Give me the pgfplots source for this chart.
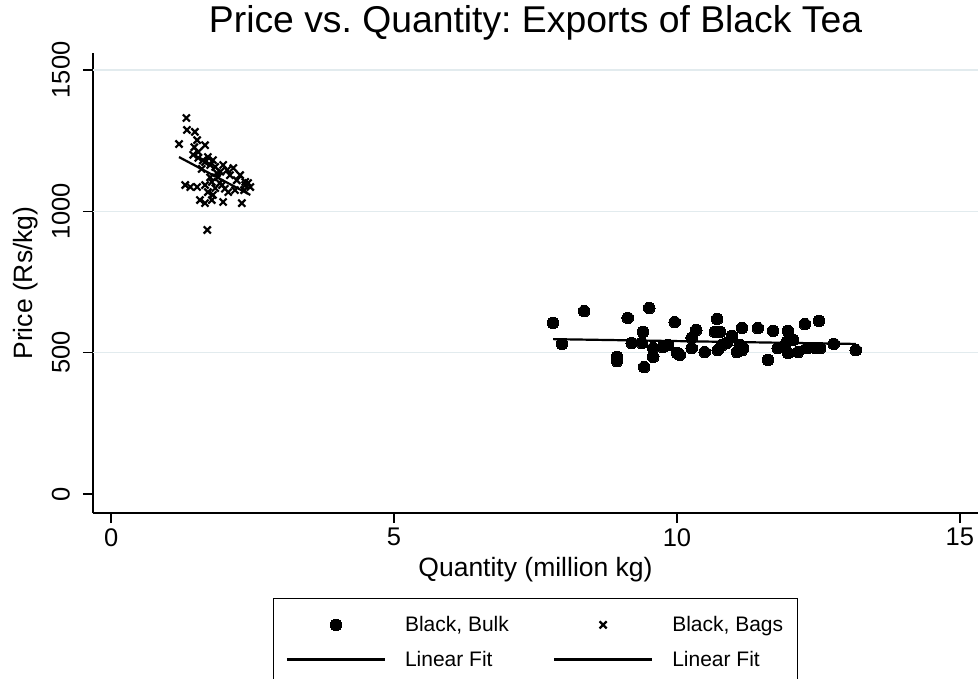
\documentclass[border=0pt]{standalone}
\usepackage{pgfplots}
\pgfplotsset{compat=1.18}
\usepackage{fontspec}
\setmainfont{Liberation Sans}
\frenchspacing
\definecolor{gridc}{RGB}{226,235,238}

\pgfplotsset{
  marklegend/.style={legend image code/.code={\path (0pt,0pt) (98pt,0pt); \draw[##1] plot coordinates {(49pt,0pt)};}},
  linelegend/.style={legend image code/.code={\draw[##1] (0pt,0pt) -- (98pt,0pt);}},
}

\pgfplotstableread{
x y
7.81 605
7.97 531
8.36 647
8.94 485
8.94 470
9.13 623
9.20 534
9.38 534
9.40 573
9.42 449
9.51 658
9.58 516
9.58 485
9.75 520
9.84 527
9.96 608
10.00 499
10.05 492
10.26 552
10.34 580
10.26 516
10.49 502
10.71 619
10.67 573
10.76 573
10.80 527
10.72 509
10.88 534
10.97 559
11.15 587
11.11 527
11.06 502
11.17 516
11.15 509
11.43 587
11.70 577
11.96 577
11.94 538
12.05 545
11.61 474
11.78 516
11.96 499
12.14 502
12.26 601
12.51 612
12.30 516
12.44 516
12.53 516
12.77 531
13.16 509
}\bulk

\pgfplotstableread{
x y
1.33 1330
1.34 1288
1.48 1281
1.20 1238
1.52 1252
1.47 1227
1.66 1234
1.54 1210
1.54 1189
1.71 1192
1.80 1181
1.66 1174
1.75 1164
1.84 1157
1.98 1164
2.05 1146
2.16 1153
2.10 1128
2.28 1128
2.37 1104
2.46 1086
1.31 1093
1.40 1086
1.52 1086
1.66 1093
1.78 1104
1.89 1121
1.87 1135
1.84 1082
1.96 1093
1.71 1068
1.80 1058
1.57 1040
1.66 1029
1.78 1040
1.98 1033
2.31 1029
2.37 1093
2.19 1075
2.07 1068
1.70 934
1.60 1150
1.92 1100
2.01 1080
1.75 1120
2.22 1110
1.45 1200
2.35 1075
2.42 1100
1.62 1180
1.93 1140
}\bags

\pgfplotstableread{
x y
7.81 548
13.16 531
}\bulkfit

\pgfplotstableread{
x y
1.20 1192
2.46 1058
}\bagsfit

\begin{document}
\begin{tikzpicture}
\useasboundingbox (0pt,0pt) rectangle (978pt,-678pt);
\clip (0pt,0pt) rectangle (978pt,-678pt);
\begin{axis}[
  at={(93pt,-513pt)}, anchor=south west,
  scale only axis, width=885pt, height=460pt,
  xmin=-0.32, xmax=15.32, ymin=-67, ymax=1560,
  axis x line*=bottom, axis y line*=left,
  axis line style={-, black, line width=1.3pt},
  xtick={0,5,10,15}, ytick={0,500,1000,1500},
  tick align=outside, major tick length=10pt,
  tick style={black, line width=1.3pt},
  minor tick num=0,
  /pgf/number format/assume math mode=true,
  /pgf/number format/1000 sep={},
  xticklabel style={font=\fontsize{25.5}{30}\selectfont, inner sep=0pt, anchor=north, yshift=-5pt},
  yticklabel style={font=\fontsize{25.5}{30}\selectfont, inner sep=0pt, xshift=-13pt, rotate=90, anchor=south},
  extra y ticks={500,1000,1500},
  extra y tick labels={,,},
  extra y tick style={grid=major, major tick length=0pt, major grid style={gridc, line width=1.5pt}},
  title={Price vs. Quantity: Exports of Black Tea},
  title style={font=\fontsize{37.3}{42}\selectfont, at={(axis description cs:0.5,1)}, anchor=base, yshift=15pt},
  xlabel={Quantity (million kg)},
  ylabel={Price (Rs/kg)},
  every axis x label/.style={at={(axis description cs:0.5,-0.1391)}, anchor=base, font=\fontsize{26.5}{31}\selectfont},
  every axis y label/.style={at={(axis description cs:-0.0689,0.5)}, rotate=90, anchor=base, font=\fontsize{26.5}{31}\selectfont},
  legend columns=2,
  legend style={at={(axis description cs:0.5,-0.1848)}, anchor=north,
    draw=black, line width=1pt, inner xsep=12pt, inner ysep=16pt,
    font=\fontsize{21}{25}\selectfont, row sep=14pt, column sep=0pt,
    /tikz/every odd column/.append style={column sep=17pt}},
  legend cell align=left,
  clip=false,
]
\addplot[only marks, mark=*, mark size=5.8pt, black, mark options={line width=0pt}, marklegend]
  table {\bulk};
\addlegendentry{\makebox[146pt][l]{Black, Bulk}}
\addplot[only marks, mark=x, mark size=5pt, black, line width=2.2pt, mark options={line width=2.2pt}, marklegend]
  table {\bags};
\addlegendentry{Black, Bags}
\addplot[no marks, black, line width=2.2pt, linelegend]
  table {\bulkfit};
\addlegendentry{\makebox[146pt][l]{Linear Fit}}
\addplot[no marks, black, line width=2.2pt, linelegend]
  table {\bagsfit};
\addlegendentry{Linear Fit}
\end{axis}
\end{tikzpicture}
\end{document}
